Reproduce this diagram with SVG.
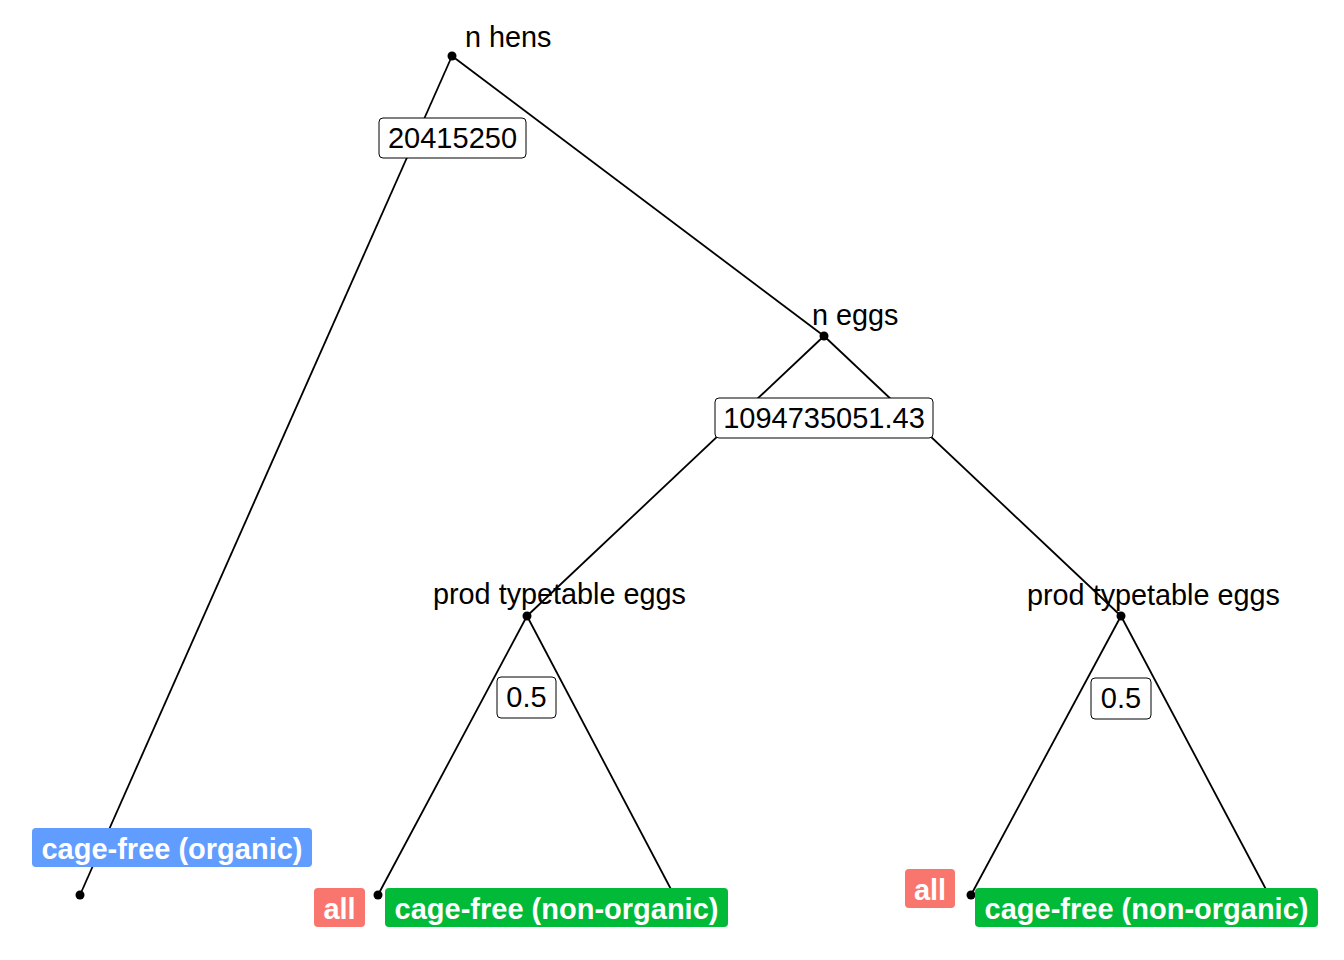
<svg xmlns="http://www.w3.org/2000/svg" width="1344" height="960" viewBox="0 0 1344 960">
<style>
.edge{stroke:#000;stroke-width:1.8;fill:none}
.pt{fill:#000}
.nlab{font-family:"Liberation Sans",Arial,sans-serif;font-size:28.8px;fill:#000}
.elab rect{fill:#fff;stroke:#000;stroke-width:1}
.elab text{font-family:"Liberation Sans",Arial,sans-serif;font-size:29px;fill:#000;text-anchor:middle}
.leaf text{font-family:"Liberation Sans",Arial,sans-serif;font-size:29px;font-weight:bold;fill:#fff;text-anchor:middle}
.blue{fill:#619CFF}.red{fill:#F8766D}.green{fill:#00BA38}
</style>
<rect width="1344" height="960" fill="#fff"/>
<g id="connectors">
<line class="edge" x1="452" y1="56" x2="80" y2="895"/>
<line class="edge" x1="452" y1="56" x2="824" y2="336"/>
<line class="edge" x1="824" y1="336" x2="527" y2="616"/>
<line class="edge" x1="824" y1="336" x2="1121" y2="616"/>
<line class="edge" x1="527" y1="616" x2="378" y2="895"/>
<line class="edge" x1="527" y1="616" x2="674" y2="895"/>
<line class="edge" x1="1121" y1="616" x2="971" y2="895"/>
<line class="edge" x1="1121" y1="616" x2="1269" y2="895"/>
</g>
<g id="node-n-hens">
<circle class="pt" cx="452" cy="56" r="4.5"/>
<text class="nlab" x="465" y="47">n hens</text>
</g>
<g id="node-n-eggs">
<circle class="pt" cx="824" cy="336" r="4.5"/>
<text class="nlab" x="812" y="325">n eggs</text>
</g>
<g id="node-prod-left">
<circle class="pt" cx="527" cy="616" r="4.5"/>
<text class="nlab" x="433" y="604">prod typetable eggs</text>
</g>
<g id="node-prod-right">
<circle class="pt" cx="1121" cy="616" r="4.5"/>
<text class="nlab" x="1027" y="605">prod typetable eggs</text>
</g>
<g id="edge-label-1" class="elab">
<rect x="379" y="118" width="147" height="40" rx="4"/>
<text x="452.5" y="148">20415250</text>
</g>
<g id="edge-label-2" class="elab">
<rect x="715" y="398" width="218" height="40" rx="4"/>
<text x="824" y="428">1094735051.43</text>
</g>
<g id="edge-label-3" class="elab">
<rect x="497" y="677" width="59" height="41" rx="4"/>
<text x="526.5" y="707">0.5</text>
</g>
<g id="edge-label-4" class="elab">
<rect x="1091" y="678" width="60" height="41" rx="4"/>
<text x="1121" y="708">0.5</text>
</g>
<g id="leaf-organic" class="leaf">
<circle class="pt" cx="80" cy="895" r="4.5"/>
<rect class="blue" x="32" y="828" width="280" height="39" rx="4"/>
<text x="172" y="859">cage-free (organic)</text>
</g>
<g id="leaf-all-left" class="leaf">
<circle class="pt" cx="378" cy="895" r="4.5"/>
<rect class="red" x="314" y="888" width="51" height="39" rx="4"/>
<text x="339.5" y="919">all</text>
</g>
<g id="leaf-nonorganic-left" class="leaf">
<circle class="pt" cx="674" cy="895" r="4.5"/>
<rect class="green" x="385" y="888" width="343" height="39" rx="4"/>
<text x="556.5" y="919">cage-free (non-organic)</text>
</g>
<g id="leaf-all-right" class="leaf">
<circle class="pt" cx="971" cy="895" r="4.5"/>
<rect class="red" x="905" y="869" width="50" height="39" rx="4"/>
<text x="930" y="900">all</text>
</g>
<g id="leaf-nonorganic-right" class="leaf">
<circle class="pt" cx="1269" cy="895" r="4.5"/>
<rect class="green" x="975" y="888" width="343" height="39" rx="4"/>
<text x="1146.5" y="919">cage-free (non-organic)</text>
</g>
</svg>
